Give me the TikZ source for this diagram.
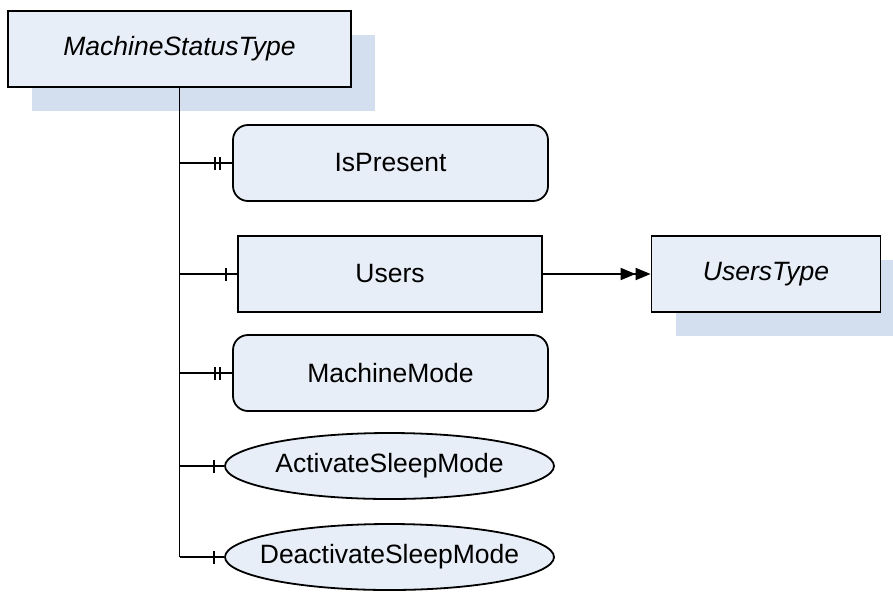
\documentclass[tikz,border=0pt]{standalone}
\usepackage{fontspec}
\setmainfont{Liberation Sans}
\usetikzlibrary{arrows.meta,shadows,decorations.markings,shapes.geometric}

\definecolor{boxfill}{RGB}{232,238,248}
\definecolor{shadowblue}{RGB}{211,222,238}

\tikzset{
    elem/.style={draw, line width=1.8pt, fill=boxfill, minimum height=76pt,
        inner sep=0pt, font=\fontsize{26.5}{30}\selectfont},
    typebox/.style={elem, rectangle,
        drop shadow={shadow xshift=24pt, shadow yshift=-24pt, fill=shadowblue, fill opacity=1},
        font=\fontsize{26.5}{30}\selectfont\itshape},
    attrbox/.style={elem, rectangle, rounded corners=15pt, minimum width=315pt},
    membox/.style={elem, rectangle, minimum width=304pt},
    opbox/.style={elem, ellipse, minimum width=329pt, minimum height=66pt, inner xsep=-40pt},
    link/.style={line width=1.8pt},
    onebar/.style={link, postaction={decorate, decoration={markings,
        mark=at position #1 with {\draw[line width=1.8pt] (0,-6.5pt) -- (0,6.5pt);}}}},
    twobar/.style={link, postaction={decorate, decoration={markings,
        mark=at position -17pt with {\draw[line width=1.8pt] (0,-6.5pt) -- (0,6.5pt);},
        mark=at position -12pt with {\draw[line width=1.8pt] (0,-6.5pt) -- (0,6.5pt);}}}}
}

\begin{document}
\begin{tikzpicture}[x=1pt, y=-1pt]
    \useasboundingbox (0,0) rectangle (893,595);

    % type
    \node[typebox, minimum width=343pt] (mst) at (179.5,49) {MachineStatusType};

    % children
    \node[attrbox] (isp) at (390.5,163) {IsPresent};
    \node[membox] (users) at (390,274) {Users};
    \node[attrbox] (mm) at (390.5,373) {MachineMode};
    \node[opbox] (asm) at (389.5,466) {ActivateSleepMode};
    \node[opbox] (dsm) at (389.5,557) {DeactivateSleepMode};

    % users type
    \node[typebox, minimum width=229pt] (ut) at (766,274) {UsersType};

    % trunk
    \draw[link] (mst.south) -- (mst.south |- dsm.west);

    % branches
    \draw[twobar] (mst.south |- isp.west) -- (isp.west);
    \draw[onebar=-11pt] (mst.south |- users.west) -- (users.west);
    \draw[twobar] (mst.south |- mm.west) -- (mm.west);
    \draw[onebar=-10pt] (mst.south |- asm.west) -- (asm.west);
    \draw[onebar=-10pt] (mst.south |- dsm.west) -- (dsm.west);

    % reference
    \draw[link, -{Triangle[length=15pt,width=12pt]Triangle[length=15pt,width=12pt]}] (users.east) -- (ut.west);
\end{tikzpicture}
\end{document}
